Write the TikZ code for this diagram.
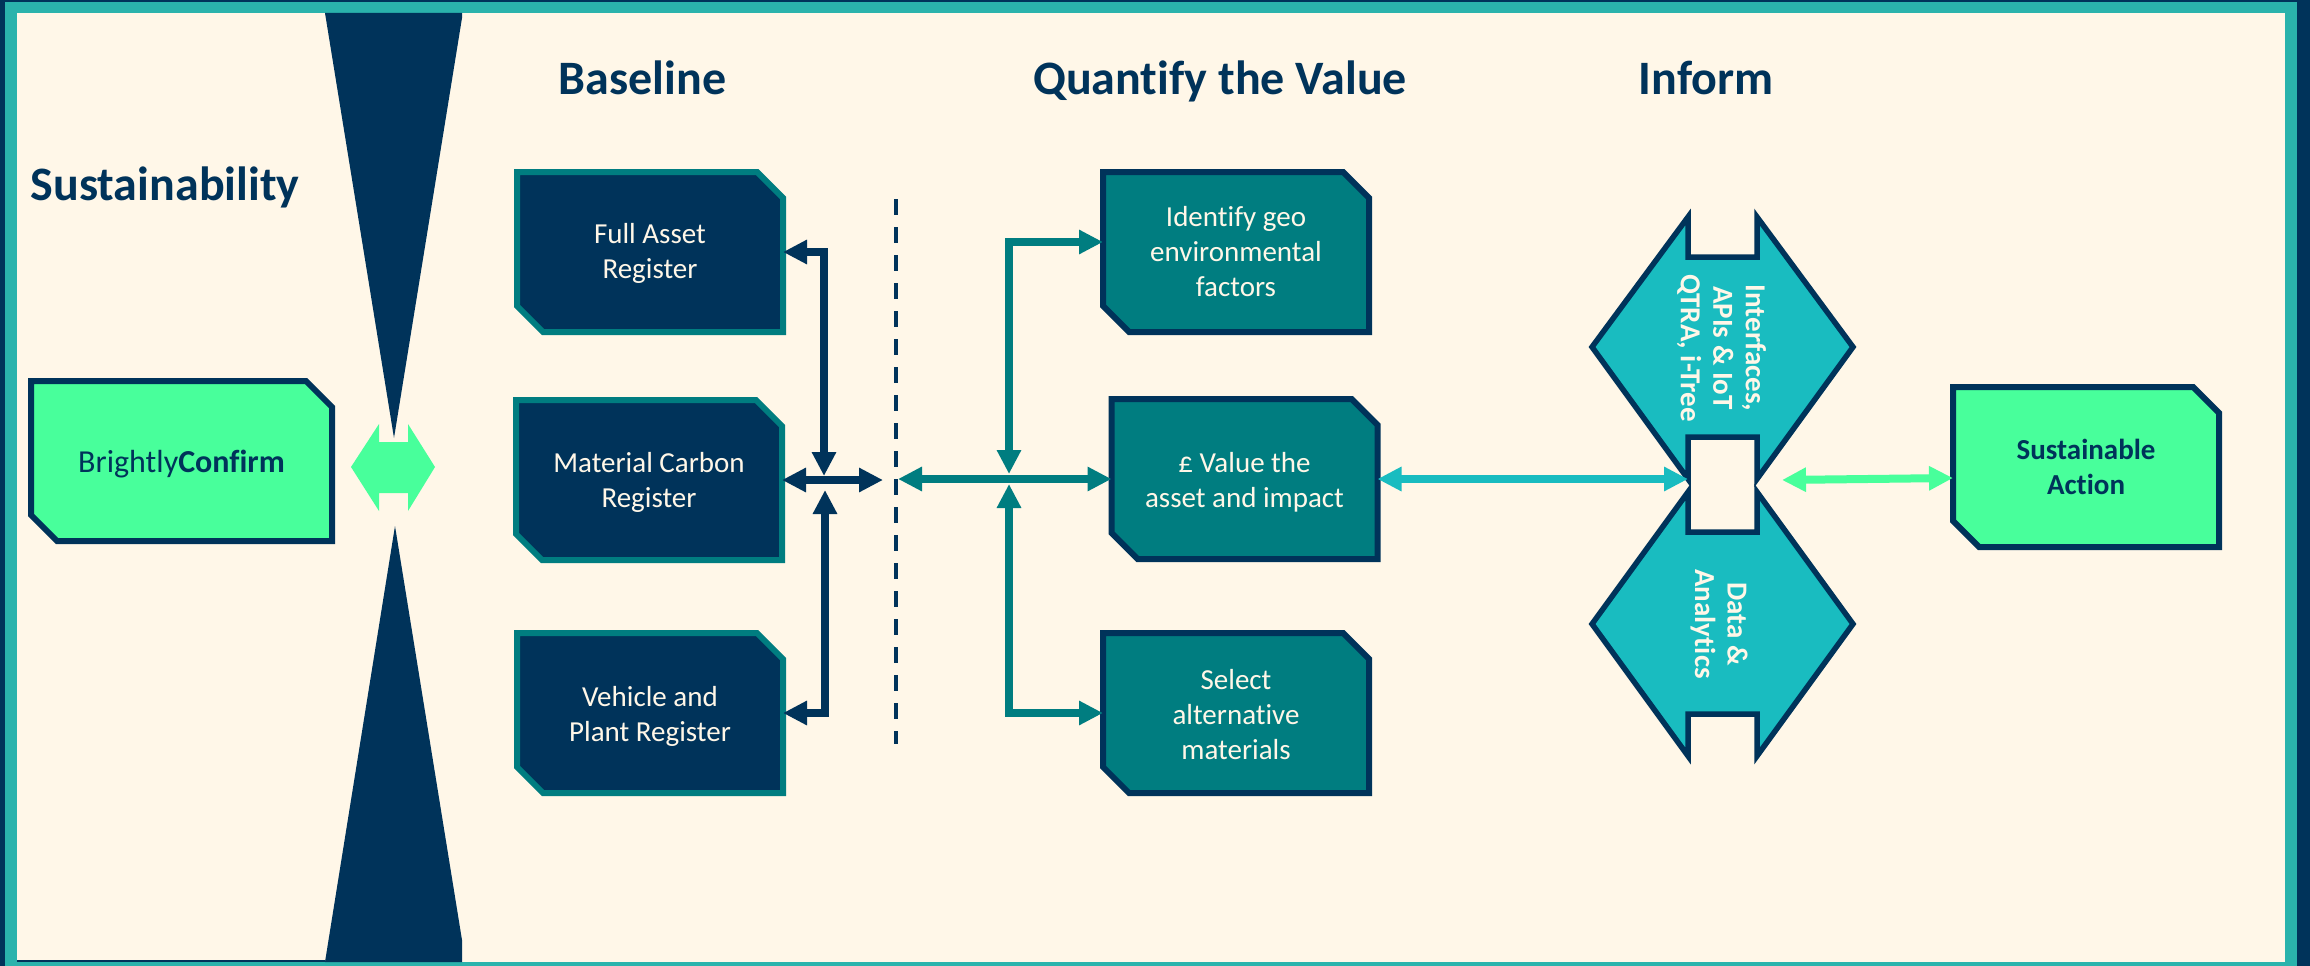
\documentclass[tikz,border=0pt]{standalone}
\usepackage{fontspec}
\setmainfont[Ligatures=NoCommon]{Carlito}
\usetikzlibrary{arrows.meta,shapes.misc}
\definecolor{navy}{HTML}{00335A}
\definecolor{tealbox}{HTML}{007D80}
\definecolor{framet}{HTML}{2AB3AC}
\definecolor{cyanh}{HTML}{19BCC0}
\definecolor{mint}{HTML}{48FF9B}
\definecolor{cream}{HTML}{FFF7E8}
\newcommand{\tl}[1]{\rule{0pt}{#1pt}}
\tikzset{
  x=1pt,y=-1pt,
  cbox/.style={chamfered rectangle,chamfered rectangle corners={north east,south west},
    chamfered rectangle xsep=13pt,chamfered rectangle ysep=13pt,
    line width=6pt,outer sep=0pt,inner sep=0pt,align=center,
    minimum width=266pt,minimum height=160pt,
    font=\fontsize{29}{35}\selectfont},
  navybox/.style={cbox,draw=tealbox,fill=navy,text=cream},
  tealnode/.style={cbox,draw=navy,fill=tealbox,text=cream},
  mintbox/.style={cbox,draw=navy,fill=mint,text=navy},
  heading/.style={anchor=base,inner sep=0pt,text=navy,font=\fontsize{48}{50}\selectfont\bfseries},
  hexshape/.style={draw=navy,fill=cyanh,line width=5.5pt,miter limit=10},
  hextext/.style={rotate=-90,align=center,text=cream,inner sep=0pt,font=\fontsize{29}{32.5}\selectfont\bfseries},
  dbl/.style={line width=8pt,{Triangle[length=24pt,width=23pt]}-{Triangle[length=24pt,width=23pt]}},
  navyarrow/.style={dbl,draw=navy},
  tealarrow/.style={dbl,draw=tealbox},
  cyanarrow/.style={dbl,draw=cyanh},
  mintarrow/.style={dbl,draw=mint},
}
\begin{document}
\begin{tikzpicture}
\useasboundingbox (0,0) rectangle (2310,966);
% frame
\fill[navy] (0,0) rectangle (2310,966);
\fill[framet] (5,2) rectangle (2297,966);
\fill[cream] (17,13) rectangle (2285,962);
\fill[navy] (17,960) rectangle (325,962);
% hourglass
\fill[navy] (325,13) -- (462,13) -- (462,18) -- (394,438) -- cycle;
\fill[navy] (395,526) -- (462,940) -- (462,962) -- (325,962) -- cycle;
\fill[mint] (351,467) -- (379,424) -- (379,442) -- (408,442) -- (408,424) -- (435,467)
  -- (408,511) -- (408,493) -- (379,493) -- (379,511) -- cycle;
% headings
\node[heading] (hSus) at (165,200) {Sustainability};
\node[heading] (hBase) at (642.5,94) {Baseline};
\node[heading] (hQuant) at (1220,94) {Quantify the Value};
\node[heading] (hInf) at (1706,94) {Inform};
% boxes
\node[mintbox,minimum width=301pt,font=\fontsize{32}{35}\selectfont] (confirm) at (181.5,461) {\tl{28.2}Brightly\textbf{Confirm}};
\node[navybox] (asset) at (650,252) {\tl{22.6}Full Asset\\Register};
\node[navybox] (carbon) at (649,480) {\tl{24.6}Material Carbon\\Register};
\node[navybox] (plant) at (650,713) {\tl{26}Vehicle and\\Plant Register};
\node[tealnode] (geo) at (1236,252) {Identify geo\\environmental\\factors};
\node[tealnode] (value) at (1244.5,479) {\tl{26.6}£ Value the\\asset and impact};
\node[tealnode] (alt) at (1236,713) {\tl{22.3}Select\\alternative\\materials};
\node[mintbox] (action) at (2086,467) {\textbf{Sustainable}\\\textbf{Action}};
% hexagons
\draw[hexshape] (1688,217) -- (1688,257) -- (1757,257) -- (1757,217) -- (1853,347)
  -- (1757,479) -- (1757,437) -- (1688,437) -- (1688,479) -- (1592,347) -- cycle;
\draw[hexshape] (1688,492) -- (1688,532) -- (1757,532) -- (1757,492) -- (1853,624)
  -- (1757,756) -- (1757,714) -- (1688,714) -- (1688,756) -- (1592,624) -- cycle;
\node[hextext] (hexA) at (1721.5,348) {Interfaces,\\APIs \& IoT\\QTRA, i-Tree};
\node[hextext] (hexB) at (1719,624) {Data \&\\Analytics};
\coordinate (hexL) at (1688,479);
\coordinate (hexR) at (1782,480);
% divider
\coordinate (divT) at (896,199);
\coordinate (divB) at (896,744);
\draw[navy,line width=4pt,dash pattern=on 16pt off 12pt] (divT) -- (divB);
% navy connectors
\coordinate (nHubT) at (824,476);
\coordinate (nHubB) at (825,490);
\coordinate (nOut) at (883,480);
\draw[navyarrow] (asset.east) -| (nHubT);
\draw[navyarrow] (plant.east) -| (nHubB);
\draw[navyarrow] (carbon.east) -- (nOut);
% teal connectors
\coordinate (tHubT) at (1009,474);
\coordinate (tHubB) at (1009,484);
\coordinate (tOut) at (898,479);
\draw[tealarrow] ([yshift=10pt]geo.west) -| (tHubT);
\draw[tealarrow] (alt.west) -| (tHubB);
\draw[tealarrow] (tOut) -- (value.west);
% right connectors
\draw[cyanarrow] (value.east) -- (hexL);
\draw[mintarrow] (hexR) -- ([yshift=-11pt]action.west);
\end{tikzpicture}
\end{document}
